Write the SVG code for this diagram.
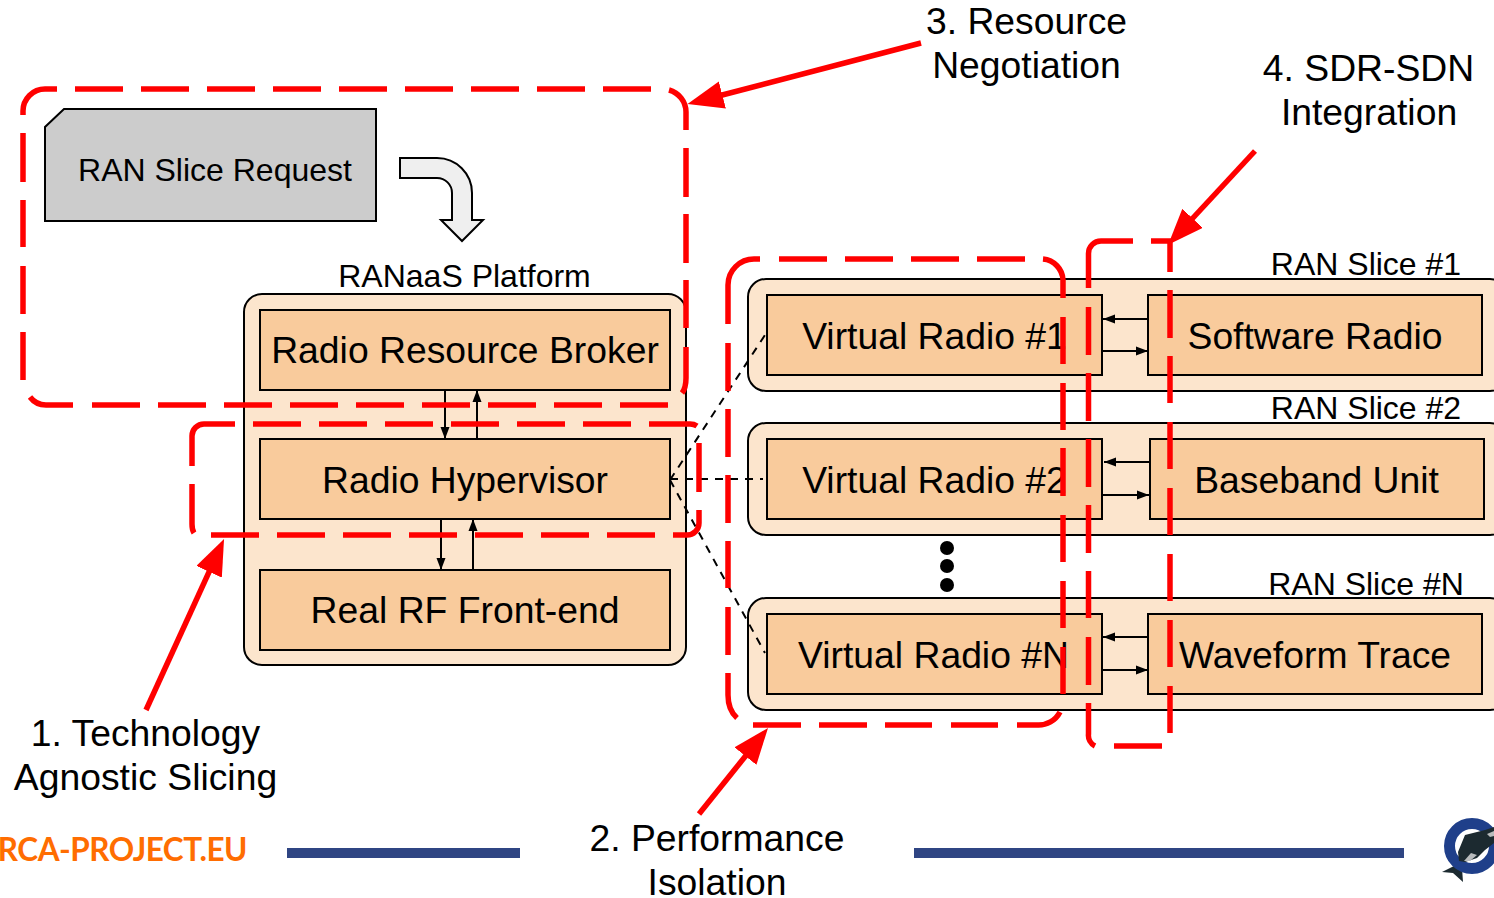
<svg xmlns="http://www.w3.org/2000/svg" width="1494" height="898" viewBox="0 0 1494 898">
<style>
text{font-family:"Liberation Sans",Arial,sans-serif;fill:#000;text-anchor:middle}
.t37{font-size:37.3px}.t33{font-size:32px}
.outer{fill:#fce5cd;stroke:#000;stroke-width:2}
.inner{fill:#f9cb9c;stroke:#000;stroke-width:2}
.conn{stroke:#000;stroke-width:2;fill:none}
.dash{stroke:#000;stroke-width:2;fill:none;stroke-dasharray:8 7}
.red{stroke:#f00;stroke-width:5.5;fill:none}
.rarrow{stroke:#f00;stroke-width:5.5;fill:none}
</style>
<defs>
<marker id="ah" markerUnits="userSpaceOnUse" markerWidth="12" markerHeight="12" refX="12" refY="6" orient="auto"><path d="M0 1.500L12 6L0 10.500z" fill="#000"/></marker>
<marker id="rh" markerUnits="userSpaceOnUse" markerWidth="38" markerHeight="28" refX="20" refY="14" orient="auto"><path d="M0 0L36 14L0 28z" fill="#f00"/></marker>
</defs>
<rect width="1494" height="898" fill="#fff"/>
<g id="request"><path d="M64 109H376V221H45V127Z" fill="#ccc" stroke="#000" stroke-width="2"/><text class="t33" x="215" y="181">RAN Slice Request</text></g>
<g id="request-arrow"><path d="M400 158H437A35 35 0 0 1 472 193V220H483L462 241L441 220H452V193A15 15 0 0 0 437 178H400Z" fill="#efefef" stroke="#000" stroke-width="2"/></g>
<g id="platform">
<text class="t33" x="464.500" y="287">RANaaS Platform</text>
<rect class="outer" x="244" y="294" width="442" height="371" rx="18"/>
</g>
<g id="broker"><rect class="inner" x="260" y="310" width="410" height="80"/><text class="t37" x="465" y="363">Radio Resource Broker</text></g>
<g id="hypervisor"><rect class="inner" x="260" y="439" width="410" height="80"/><text class="t37" x="465" y="493">Radio Hypervisor</text></g>
<g id="rf"><rect class="inner" x="260" y="570" width="410" height="80"/><text class="t37" x="465" y="623">Real RF Front-end</text></g>
<g id="slice1"><text class="t33" x="1366" y="275">RAN Slice #1</text><rect class="outer" x="748" y="279" width="760" height="112" rx="18"/></g>
<g id="vr1"><rect class="inner" x="767" y="295" width="335" height="80"/><text class="t37" x="934.500" y="349">Virtual Radio #1</text></g>
<g id="sr"><rect class="inner" x="1148" y="295" width="334" height="80"/><text class="t37" x="1315" y="349">Software Radio</text></g>
<g id="slice2"><text class="t33" x="1366" y="419">RAN Slice #2</text><rect class="outer" x="748" y="423" width="760" height="112" rx="18"/></g>
<g id="vr2"><rect class="inner" x="767" y="439" width="335" height="80"/><text class="t37" x="934.500" y="493">Virtual Radio #2</text></g>
<g id="bbu"><rect class="inner" x="1150" y="439" width="334" height="80"/><text class="t37" x="1316.500" y="493">Baseband Unit</text></g>
<g id="slice3"><text class="t33" x="1366" y="595">RAN Slice #N</text><rect class="outer" x="748" y="598" width="760" height="112" rx="18"/></g>
<g id="vr3"><rect class="inner" x="767" y="614" width="335" height="80"/><text class="t37" x="933.500" y="668">Virtual Radio #N</text></g>
<g id="wf"><rect class="inner" x="1148" y="614" width="334" height="80"/><text class="t37" x="1315" y="668">Waveform Trace</text></g>
<g id="dots"><circle cx="947" cy="548" r="7"/><circle cx="947" cy="566" r="7"/><circle cx="947" cy="585" r="7"/></g>
<g id="connectors">
<path class="conn" marker-end="url(#ah)" d="M445 390V439"/>
<path class="conn" marker-end="url(#ah)" d="M477 439V390"/>
<path class="conn" marker-end="url(#ah)" d="M441 519V570"/>
<path class="conn" marker-end="url(#ah)" d="M473 570V519"/>
<path class="conn" marker-end="url(#ah)" d="M1148 319H1103"/>
<path class="conn" marker-end="url(#ah)" d="M1102 351H1148"/>
<path class="conn" marker-end="url(#ah)" d="M1150 462H1104"/>
<path class="conn" marker-end="url(#ah)" d="M1102 495H1149"/>
<path class="conn" marker-end="url(#ah)" d="M1148 637H1103"/>
<path class="conn" marker-end="url(#ah)" d="M1102 670H1148"/>
<path class="dash" d="M670 480L765 335"/>
<path class="dash" d="M670 479H763"/>
<path class="dash" d="M670 480L765 653"/>
</g>
<g id="highlights">
<path id="h3" class="red" d="M23 115V111A22 22 0 0 1 45 89H57M75 89H123M141 89H189M207 89H255M273 89H321M339 89H387M405 89H453M471 89H519M537 89H585M603 89H651M669 90A23 23 0 0 1 686 112V130M686 148V197M686 214V263M686 280V328M686 347V378Q686 388 682 393M668 405H620M602 405H554M536 405H488M470 405H422M404 405H356M338 405H290M272 405H224M206 405H158M140 405H92M73 405H46Q36 405 30 397M23 380V332M23 314V266M23 247V200M23 182V133"/>
<path id="h1" class="red" d="M235 424H204A12 12 0 0 0 192 436V466M192 484V524Q192 530 194 533M211 535H259M277 535H325M343 535H391M409 535H457M475 535H523M541 535H589M607 535H655M673 535H687A12 12 0 0 0 699 523V510M699 492V443M697 426Q694 424 690 424H649M631 424H583M565 424H517M499 424H451M433 424H385M367 424H319M301 424H253"/>
<path id="h2" class="red" d="M728 324V285A26 26 0 0 1 754 259H760M779 259H827M845 259H893M911 259H959M977 259H1025M1043 259A22 22 0 0 1 1063 280V298M1063 317V364M1063 383V430M1063 448V496M1063 515V562M1063 581V628M1063 647V694M1060 712A24 24 0 0 1 1037 725H1017M998 725H951M932 725H885M867 725H819M801 725H753M737 718Q728 710 728 695V673M728 655V607M728 588V541M728 523V475M728 457V409M728 391V343"/>
<path id="h4" class="red" d="M1133 241H1101A12.500 12.500 0 0 0 1088.500 253.500V288M1088.500 307V355M1088.500 373V421M1088.500 439V487M1088.500 505V553M1088.500 571V618M1088.500 637V685M1088.500 703V734A12 12 0 0 0 1095 746M1114 746H1162M1170 733V686M1170 667V620M1170 601V554M1170 535V488M1170 469V422M1170 403V356M1170 338V290M1170 272V241H1151"/>
</g>
<g id="callouts">
<path class="rarrow" marker-end="url(#rh)" d="M146 710L217.400 553.600"/>
<path class="rarrow" marker-end="url(#rh)" d="M699 814L758 740.500"/>
<path class="rarrow" marker-end="url(#rh)" d="M921 43L703 100"/>
<path class="rarrow" marker-end="url(#rh)" d="M1255 151L1179 233"/>
<text class="t37" x="1026.500" y="34">3. Resource</text><text class="t37" x="1026.500" y="78">Negotiation</text>
<text class="t37" x="1368.500" y="81">4. SDR-SDN</text><text class="t37" x="1369" y="125">Integration</text>
<text class="t37" x="145.500" y="746">1. Technology</text><text class="t37" x="145.500" y="790">Agnostic Slicing</text>
<text class="t37" x="717" y="851">2. Performance</text><text class="t37" x="717" y="895">Isolation</text>
</g>
<g id="footer">
<text x="247" y="861" style="font-family:Lato,sans-serif;font-weight:700;font-size:31.500px;letter-spacing:-0.500px;fill:#ff6d01;text-anchor:end">ORCA-PROJECT.EU</text>
<rect x="287" y="848" width="233" height="10" fill="#2f4583"/>
<rect x="914" y="848" width="490" height="10" fill="#2f4583"/>
<path d="M1442 872L1450 868L1458 864L1462 868L1463 882L1453 873Z" fill="#1c2a30"/>
<circle cx="1472" cy="846" r="22.500" fill="#fff" stroke="#1f3f8a" stroke-width="11"/>
<path d="M1458 852L1465 835L1485 830L1494 827V843L1485 850L1477 858L1465 862L1459 861Z" fill="#1c2a30"/>
<path d="M1464 861L1471 853L1477 855L1470 861Z" fill="#b9bcbd"/>
<path d="M1487 834L1494 831V836L1490 837Z" fill="#b9bcbd"/>
</g>
</svg>
